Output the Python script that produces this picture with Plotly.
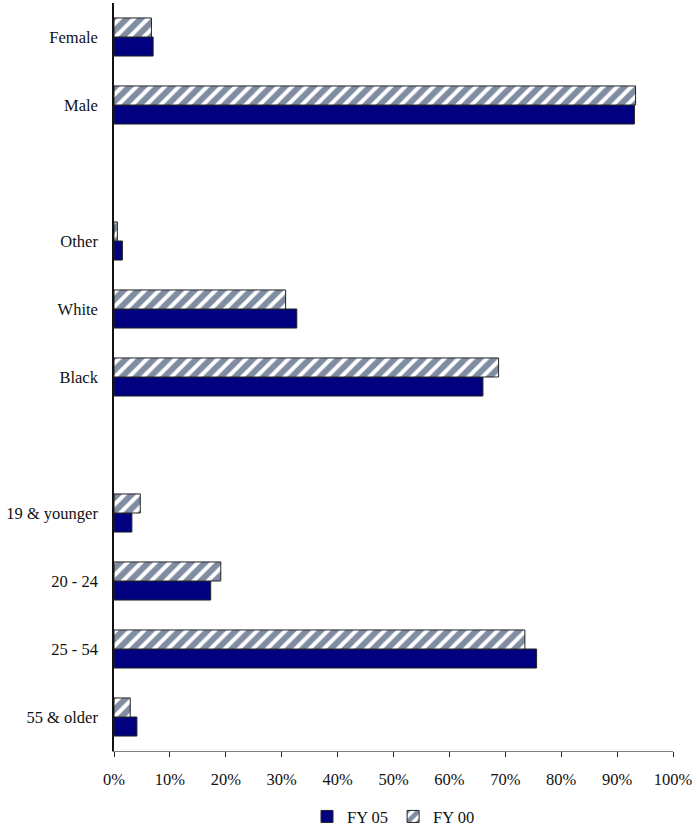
import plotly.graph_objects as go

# Categories from bottom to top (blank entries are the spacer slots)
categories = ["55 & older", "25 - 54", "20 - 24", "19 & younger", " ",
              "Black", "White", "Other", "  ", "Male", "Female"]
fy05 = [4.1, 75.6, 17.3, 3.2, None, 66.0, 32.7, 1.5, None, 93.1, 7.0]
fy00 = [2.9, 73.5, 19.1, 4.7, None, 68.8, 30.7, 0.6, None, 93.3, 6.7]
x_ticks = [0, 10, 20, 30, 40, 50, 60, 70, 80, 90, 100]
x_tick_labels = [f"{v}%" for v in x_ticks]

font_family = "Times New Roman, Liberation Serif, serif"

fig = go.Figure()
fig.add_trace(go.Bar(
    y=categories, x=fy05, name="FY 05", orientation="h",
    marker=dict(color="#000080", line=dict(color="#222222", width=1)),
))
fig.add_trace(go.Bar(
    y=categories, x=fy00, name="FY 00", orientation="h",
    marker=dict(color="white", line=dict(color="#222222", width=1),
                pattern=dict(shape="/", fgcolor="#001a44", bgcolor="white",
                             size=10, solidity=0.6)),
))

fig.update_layout(
    width=697, height=830,
    margin=dict(l=114, r=24, t=3, b=79, autoexpand=False),
    paper_bgcolor="white", plot_bgcolor="white",
    barmode="group", bargap=0.44, bargroupgap=0,
    font=dict(family=font_family, size=16.5, color="#111111"),
    showlegend=True,
    legend=dict(orientation="h", x=0.5, xanchor="center",
                yref="container", y=0.016, yanchor="middle",
                font=dict(family=font_family, size=16.5), itemwidth=30,
                traceorder="normal"),
    xaxis=dict(range=[0, 100], tickvals=x_ticks, ticktext=x_tick_labels,
               showgrid=False, zeroline=False, showline=True, linecolor="#808080",
               linewidth=1, ticks="outside", ticklen=5, tickcolor="#222222",
               ticklabelstandoff=8, automargin=False,
               tickfont=dict(family=font_family, size=16.5)),
    yaxis=dict(type="category", categoryorder="array", categoryarray=categories,
               showgrid=False, zeroline=False, showline=True, linecolor="#111111",
               linewidth=1.5, ticks="", ticklabelstandoff=11, automargin=False,
               tickfont=dict(family=font_family, size=16.5)),
)

fig.write_html("out.html", config={"displayModeBar": False},
               post_script="document.body.style.margin='0';document.body.style.overflow='hidden';")
